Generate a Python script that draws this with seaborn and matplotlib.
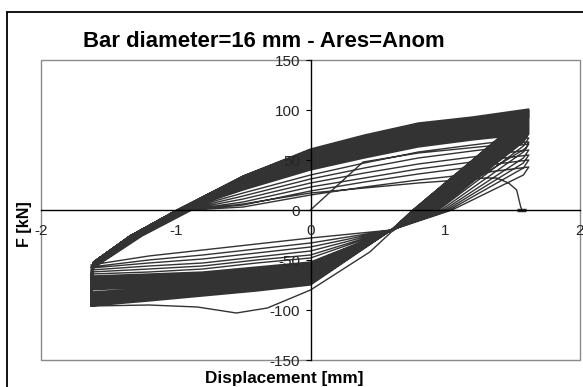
import numpy as np
import pandas as pd
import matplotlib
matplotlib.use("Agg")
import matplotlib.pyplot as plt
import seaborn as sns
from matplotlib import font_manager
from matplotlib.font_manager import FontProperties
from matplotlib.patches import Rectangle
from matplotlib.lines import Line2D

# ---------------- data ----------------
title = "Bar diameter=16 mm - Ares=Anom"
x_label = "Displacement [mm]"
y_label = "F [kN]"
x_ticks = [-2, -1, 0, 1, 2]
y_ticks = [-150, -100, -50, 0, 50, 100, 150]

# first loading + first unloading branch (disp, force)
first_disp = [0.0, 0.39, 0.8, 1.62, 1.60, 0.85, 0.60, 0.44, 0.0, -0.32, -0.55, -0.84, -1.2, -1.63]
first_force = [0.0, 48, 57, 68, 62, 0, -22, -42, -80, -98, -103, -97, -95, -96]

# per cycle key values: 6 thin (weak) cycles, then the dense band
peak_pos = [43, 50, 55, 60, 66, 72,
            76, 77, 78, 79, 80, 81, 82, 83, 84, 85, 86, 87, 88, 89, 90,
            91, 92, 93, 93, 94, 95, 95, 96, 97, 97, 98, 99, 99, 100, 101]
up_at_12 = [36, 43, 48, 53, 59, 65,
            70, 71, 72, 73, 74, 75, 76, 77, 78, 79, 80, 81, 82, 83, 84,
            85, 85, 86, 86, 87, 88, 88, 89, 89, 90, 90, 91, 92, 92, 93]
up_at_08 = [30, 36, 41, 46, 52, 58,
            63, 64, 65, 66, 67, 68, 69, 70, 71, 72, 73, 74, 75, 76, 77,
            78, 78, 79, 80, 80, 81, 82, 82, 83, 84, 84, 85, 86, 86, 87]
up_at_04 = [23, 28, 32, 37, 42, 47,
            52, 53, 54, 55, 56, 57, 58, 59, 60, 61, 62, 63, 64, 65, 66,
            67, 67, 68, 69, 69, 70, 71, 71, 72, 72, 73, 73, 74, 74, 75]
up_at_0 = [15, 19, 23, 27, 31, 35,
           40, 41, 42, 43, 44, 44, 45, 46, 47, 48, 49, 50, 50, 51, 52,
           53, 54, 54, 55, 56, 56, 57, 57, 58, 58, 59, 59, 60, 60, 61]
up_at_m05 = [3, 5, 8, 11, 14, 17,
             20, 21, 21, 22, 22, 23, 24, 24, 25, 25, 26, 26, 27, 27, 28,
             28, 29, 29, 30, 30, 31, 31, 32, 32, 32, 33, 33, 33, 34, 34]
up_zero_x = [-0.88, -0.90, -0.92, -0.93, -0.94, -0.95,
             -0.95, -0.95, -0.95, -0.95, -0.95, -0.95, -0.96, -0.96, -0.96, -0.96, -0.96, -0.96,
             -0.97, -0.97, -0.97, -0.97, -0.97, -0.97, -0.98, -0.98, -0.98, -0.98, -0.98, -0.98,
             -0.99, -0.99, -0.99, -0.99, -0.99, -0.99]
up_left_x = [-1.25, -1.26, -1.27, -1.27, -1.28, -1.28,
             -1.29, -1.29, -1.29, -1.30, -1.30, -1.30, -1.30, -1.31, -1.31, -1.31, -1.31, -1.31,
             -1.32, -1.32, -1.32, -1.32, -1.32, -1.33, -1.33, -1.33, -1.33, -1.33, -1.33, -1.34,
             -1.34, -1.34, -1.34, -1.34, -1.34, -1.34]
up_start_f = [-58, -57, -57, -56, -56, -55,
              -55, -55, -55, -55, -55, -55, -54, -54, -54, -54, -54, -54, -54, -53, -53,
              -53, -53, -53, -53, -53, -53, -52, -52, -52, -52, -52, -52, -52, -52, -52]
down_zero_x = [1.05, 1.03, 1.01, 0.99, 0.97, 0.95,
               0.94, 0.93, 0.93, 0.92, 0.91, 0.91, 0.90, 0.89, 0.89, 0.88, 0.87, 0.87, 0.86, 0.85, 0.85,
               0.84, 0.83, 0.83, 0.82, 0.81, 0.81, 0.80, 0.79, 0.79, 0.78, 0.78, 0.77, 0.77, 0.76, 0.76]
down_at_0 = [-28, -33, -37, -41, -45, -48,
             -52, -53, -54, -55, -55, -56, -57, -58, -59, -60, -60, -61, -62, -63, -64,
             -64, -65, -66, -67, -67, -68, -69, -70, -70, -71, -72, -73, -73, -74, -75]
down_at_m04 = [-34, -39, -43, -47, -50, -53,
               -57, -58, -59, -59, -60, -61, -62, -63, -64, -64, -65, -66, -67, -68, -69,
               -69, -70, -71, -72, -73, -74, -74, -75, -76, -77, -78, -79, -79, -80, -81]
down_at_m08 = [-40, -45, -49, -53, -56, -59,
               -62, -63, -64, -64, -65, -66, -67, -68, -69, -69, -70, -71, -72, -73, -74,
               -74, -75, -76, -77, -78, -79, -79, -80, -81, -82, -83, -84, -84, -85, -86]
down_at_m12 = [-46, -50, -53, -56, -59, -62,
               -64, -65, -66, -67, -68, -69, -70, -71, -71, -72, -73, -74, -75, -76, -77,
               -78, -79, -80, -81, -82, -83, -84, -85, -86, -87, -88, -89, -89, -90, -91]
peak_neg = [-55, -57, -58, -60, -62, -64,
            -66, -67, -68, -69, -70, -71, -72, -73, -74, -75, -76, -77, -78, -79, -80,
            -82, -83, -84, -85, -86, -87, -88, -89, -90, -91, -92, -93, -94, -95, -96]

# last cycle (failure)
last_disp = [-1.63, -1.61, -1.30, -0.90, -0.5, 0.0, 0.8, 1.30, 1.38, 1.47, 1.53, 1.56, 1.57, 1.60]
last_force = [-96, -56, -26, 0, 6, 17, 27, 32, 32, 27, 20, 3, 0, 0]

# ---------------- build the path ----------------
xs = list(first_disp)
ys = list(first_force)
for i in range(len(peak_pos)):
    # loading towards positive displacement
    xs += [-1.61, up_left_x[i], up_zero_x[i], -0.5, 0.0, 0.4, 0.8, 1.2, 1.62]
    ys += [up_start_f[i], -26, 0, up_at_m05[i], up_at_0[i], up_at_04[i], up_at_08[i], up_at_12[i], peak_pos[i]]
    # loading towards negative displacement
    xs += [1.58, down_zero_x[i], 0.60, 0.0, -0.4, -0.8, -1.2, -1.63]
    ys += [peak_pos[i] - 8, 0, -20, down_at_0[i], down_at_m04[i], down_at_m08[i], down_at_m12[i], peak_neg[i]]
xs += last_disp[1:]
ys += last_force[1:]

df = pd.DataFrame({"disp": xs, "force": ys, "unit": 0})

# ---------------- figure ----------------
sns.set_theme(style="white")
plt.rcParams["font.family"] = ["Liberation Sans", "DejaVu Sans"]

# narrow font for tick labels if one is installed
tick_fp = None
for f in font_manager.fontManager.ttflist:
    nm = f.name
    if ("Narrow" in nm or "Condensed" in nm or str(f.stretch) in ("condensed", "semi-condensed")) \
            and f.style == "normal" and str(f.weight) in ("400", "normal", "regular", "book") \
            and "Mono" not in nm and "Serif" not in nm:
        tick_fp = FontProperties(fname=f.fname, size=12)
        break
if tick_fp is None:
    tick_fp = FontProperties(family=["Liberation Sans", "DejaVu Sans"], size=11)

W, H = 583, 387
fig = plt.figure(figsize=(W / 100, H / 100), dpi=100)
fig.patch.set_facecolor("white")
ax = fig.add_axes([41 / W, (H - 360) / H, (580 - 41) / W, 300 / H])

line_col = "#333333"
sns.lineplot(data=df, x="disp", y="force", units="unit", estimator=None, sort=False,
             color=line_col, lw=1.0, ax=ax, legend=False)
ax.plot([1.53, 1.60], [0, 0], color=line_col, lw=2.5, solid_capstyle="butt")

ax.set_xlim(-2, 2)
ax.set_ylim(-150, 150)
ax.set_xticks(x_ticks)
ax.set_yticks(y_ticks)
ax.set_xticklabels([str(v) for v in x_ticks], fontproperties=tick_fp)
ax.set_yticklabels([str(v) for v in y_ticks], fontproperties=tick_fp)
ax.set_xlabel("")
ax.set_ylabel("")
ax.set_axisbelow(False)

for s in ["left", "bottom"]:
    ax.spines[s].set_position(("data", 0))
    ax.spines[s].set_color("black")
    ax.spines[s].set_linewidth(1.0)
for s in ["top", "right"]:
    ax.spines[s].set_visible(False)
ax.add_patch(Rectangle((0, 0), 1, 1, transform=ax.transAxes, fill=False,
                       ec="#8a8a8a", lw=1.0, clip_on=False, zorder=0))

ax.tick_params(axis="y", direction="out", length=3.6, width=0.8, color="black", pad=4, left=True)
ax.tick_params(axis="x", direction="out", length=0, pad=10, bottom=True)
ax.grid(False)

fig.text(263.5 / W, 1 - 47 / H, title, ha="center", va="baseline",
         fontsize=15.9, fontweight="bold", color="black")
fig.text(284 / W, 1 - 383 / H, x_label, ha="center", va="baseline",
         fontsize=12.3, fontweight="bold", color="black")
fig.text(24 / W, 1 - 224 / H, y_label, ha="center", va="center", rotation=90,
         fontsize=11.5, fontweight="bold", color="black")

# outer chart frame (left and top edges visible)
fig.add_artist(Line2D([7 / W, 7 / W], [0, 1 - 12 / H], color="black", lw=1.3, transform=fig.transFigure))
fig.add_artist(Line2D([7 / W, 1], [1 - 12 / H, 1 - 12 / H], color="black", lw=1.3, transform=fig.transFigure))

fig.savefig("out.png", dpi=100, facecolor="white")
